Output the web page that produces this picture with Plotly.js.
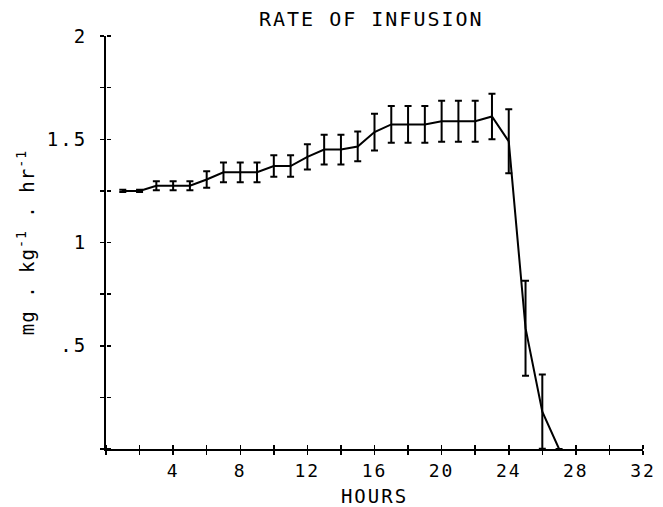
<!DOCTYPE html>
<html>
<head>
<meta charset="utf-8">
<script src="https://cdn.plot.ly/plotly-3.0.1.min.js"></script>
<style>
  html, body { margin: 0; padding: 0; background: #fff; }
  #chart { width: 663px; height: 507px; }
  .gtitle { letter-spacing: 2px; }
  .xtitle { letter-spacing: 2px; }
  .ytitle { letter-spacing: 1px; }
  .xtick text, .ytick text { letter-spacing: 2px; }
</style>
</head>
<body>
<div id="chart"></div>
<script>
// Data
const hours = [1, 2, 3, 4, 5, 6, 7, 8, 9, 10, 11, 12, 13, 14, 15, 16, 17, 18, 19, 20, 21, 22, 23, 24, 25, 26, 27];
const rate  = [1.25, 1.25, 1.275, 1.275, 1.275, 1.305, 1.34, 1.34, 1.34, 1.37, 1.37, 1.415, 1.45, 1.45, 1.465, 1.535, 1.572, 1.572, 1.572, 1.587, 1.587, 1.587, 1.61, 1.49, 0.585, 0.181, 0];
const sem   = [0.005, 0.005, 0.022, 0.022, 0.022, 0.04, 0.048, 0.048, 0.048, 0.052, 0.052, 0.061, 0.072, 0.072, 0.072, 0.089, 0.089, 0.089, 0.089, 0.099, 0.099, 0.099, 0.11, 0.155, 0.23, 0.18, 0];

const xTickVals = [4, 8, 12, 16, 20, 24, 28, 32];
const xTickText = ['4', '8', '12', '16', '20', '24', '28', '32'];
const yTickVals = [0.5, 1, 1.5, 2];
const yTickText = ['.5', '1', '1.5', '2'];

const FONT = 'DejaVu Sans Mono, monospace';

const main = {
  x: hours, y: rate, type: 'scatter', mode: 'lines',
  line: { color: '#000', width: 2 },
  error_y: { type: 'data', array: sem, visible: true, color: '#000', thickness: 2, width: 3.5 },
  hoverinfo: 'skip', showlegend: false
};
const ghost = {
  x: hours, y: rate, type: 'scatter', mode: 'lines', xaxis: 'x2', yaxis: 'y2',
  line: { color: 'rgba(0,0,0,0)', width: 1 }, hoverinfo: 'skip', showlegend: false
};

const tickStyle = { ticklen: 4, tickwidth: 1.5, tickcolor: '#000' };

const layout = {
  width: 663, height: 507,
  margin: { l: 106, r: 20, t: 36, b: 58 },
  paper_bgcolor: '#fff', plot_bgcolor: '#fff',
  font: { family: FONT, color: '#000', size: 18 },
  title: { text: 'RATE OF INFUSION', font: { family: FONT, size: 20, color: '#000' },
           x: 0.56, xref: 'container', xanchor: 'center', y: 0.962, yref: 'container', yanchor: 'middle' },
  xaxis: {
    range: [0, 32], showgrid: false, zeroline: false,
    showline: true, linecolor: '#000', linewidth: 2,
    tickmode: 'array', tickvals: xTickVals, ticktext: xTickText,
    ticks: 'outside', ...tickStyle,
    minor: { dtick: 2, tick0: 0, ticks: 'outside', ...tickStyle },
    tickfont: { family: FONT, size: 18, color: '#000' },
    title: { text: 'HOURS', font: { family: FONT, size: 19, color: '#000' }, standoff: 10 }
  },
  yaxis: {
    range: [0, 2], showgrid: false, zeroline: false,
    showline: true, linecolor: '#000', linewidth: 2,
    tickmode: 'array', tickvals: yTickVals, ticktext: yTickText,
    ticks: 'outside', ...tickStyle,
    minor: { dtick: 0.25, tick0: 0, ticks: 'outside', ...tickStyle },
    tickfont: { family: FONT, size: 19, color: '#000' },
    ticklabelstandoff: 9,
    title: { text: 'mg . kg<sup>-1</sup> . hr<sup>-1</sup>', font: { family: FONT, size: 19, color: '#000' }, standoff: 7 }
  },
  // second axes placed on the same lines, ticks pointing into the plot: crossing tick marks
  xaxis2: {
    overlaying: 'x', side: 'top', anchor: 'free', position: 0, range: [0, 32],
    showgrid: false, zeroline: false, showline: false, showticklabels: false,
    tickmode: 'array', tickvals: xTickVals,
    ticks: 'outside', ...tickStyle,
    minor: { dtick: 2, tick0: 0, ticks: 'outside', ...tickStyle }
  },
  yaxis2: {
    overlaying: 'y', side: 'right', anchor: 'free', position: 0, range: [0, 2],
    showgrid: false, zeroline: false, showline: false, showticklabels: false,
    tickmode: 'array', tickvals: yTickVals,
    ticks: 'outside', ...tickStyle,
    minor: { dtick: 0.25, tick0: 0, ticks: 'outside', ...tickStyle }
  }
};

Plotly.newPlot('chart', [main, ghost], layout, { staticPlot: true, displayModeBar: false });
</script>
</body>
</html>
